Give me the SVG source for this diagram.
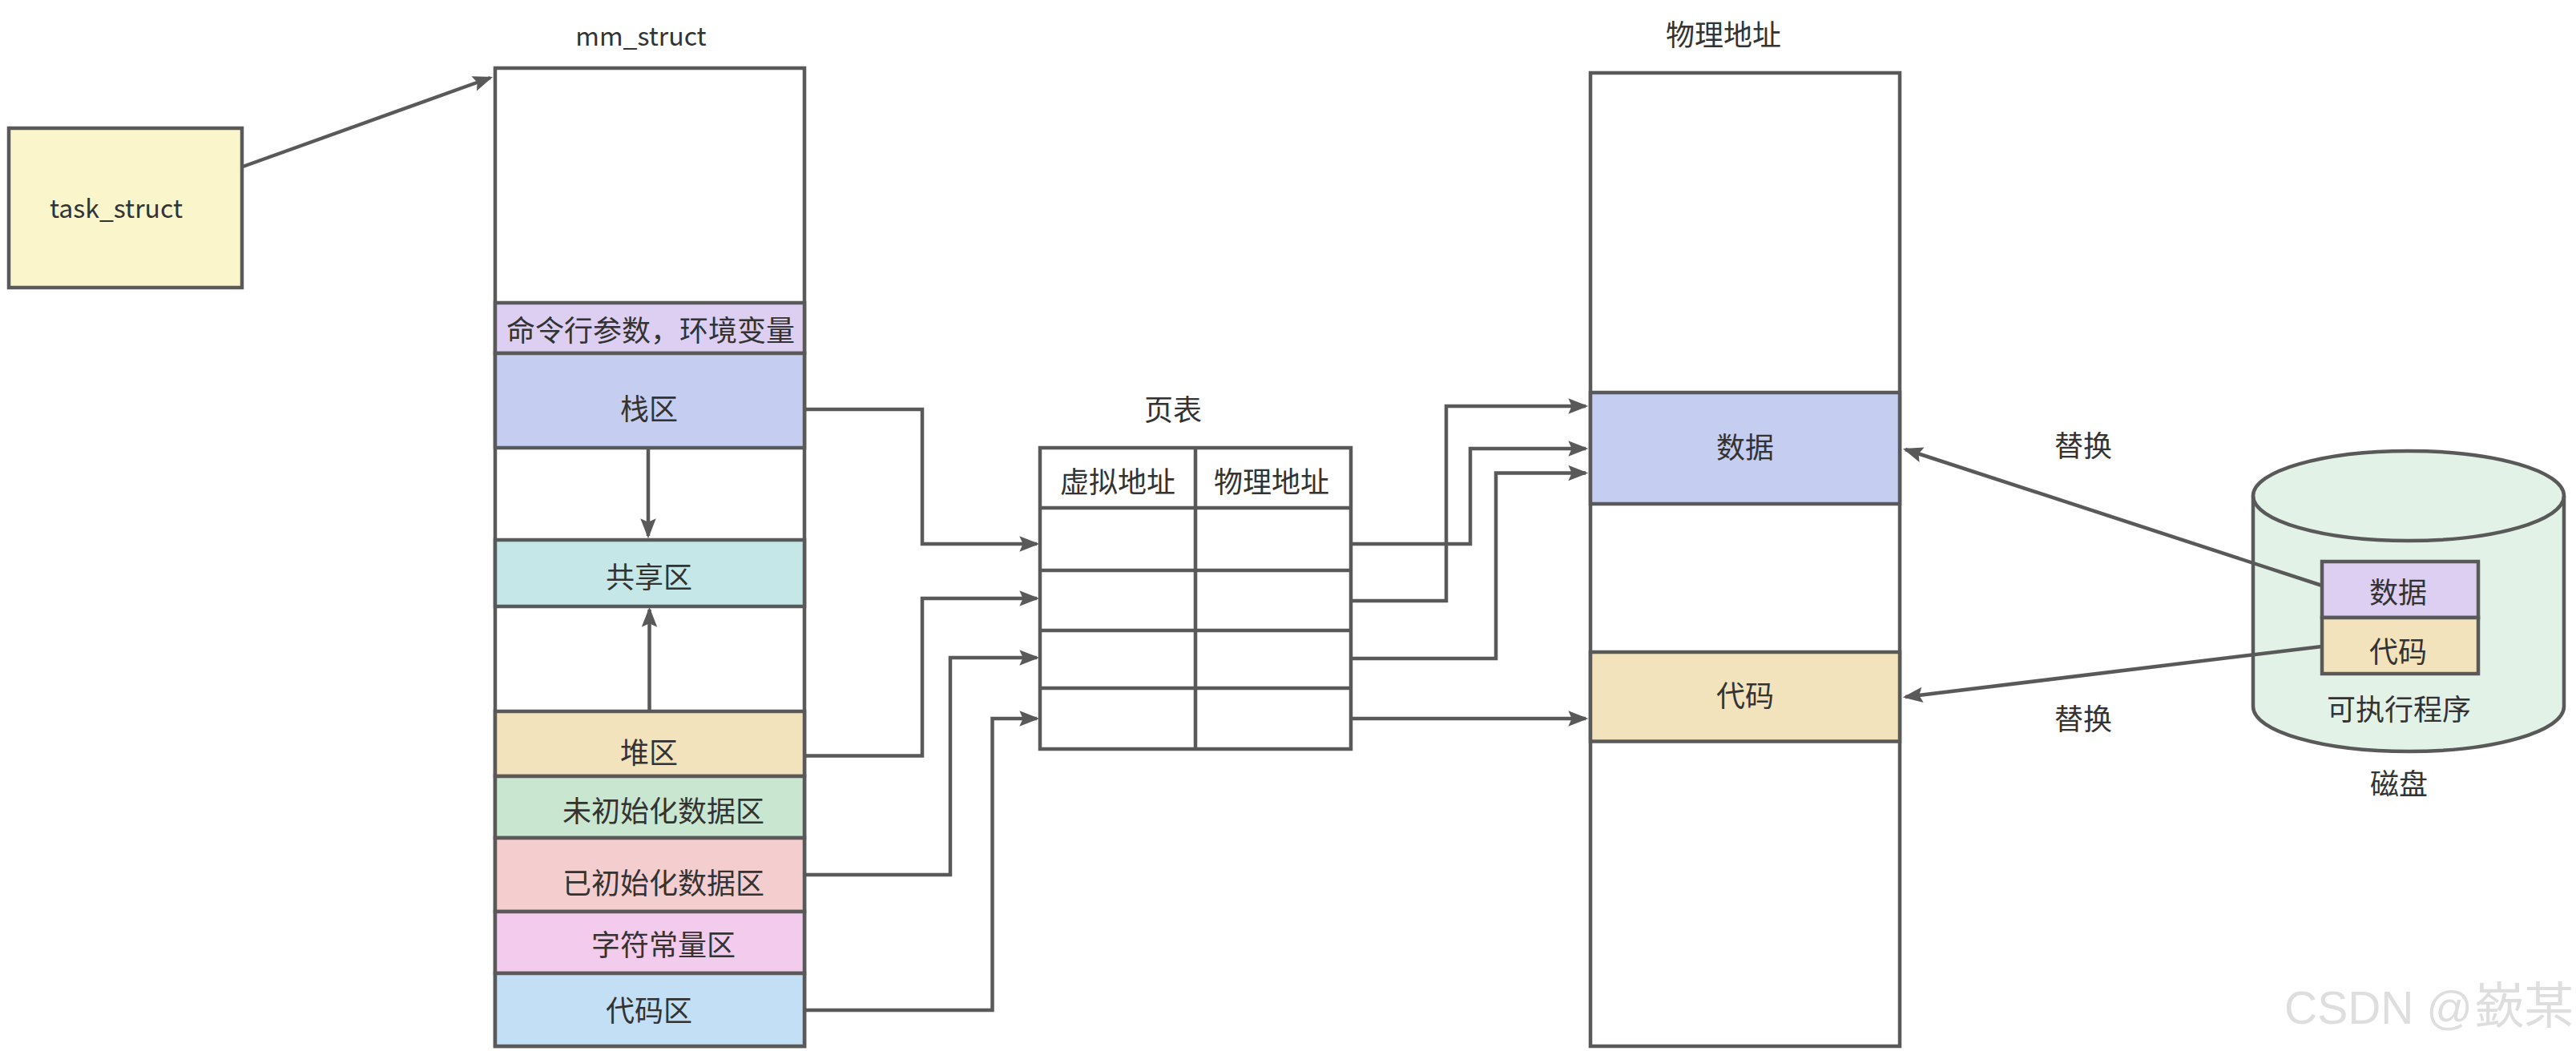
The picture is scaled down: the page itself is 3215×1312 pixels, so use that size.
<svg xmlns="http://www.w3.org/2000/svg" width="3215" height="1312" viewBox="0 0 3215 1312">
<defs>
<style>
text{font-family:"Noto Sans CJK SC","Noto Sans",sans-serif;font-size:36px;fill:#333;text-anchor:middle;dominant-baseline:central}
text.l{font-size:32px}
.b{stroke:#595959;stroke-width:4.5}
.c{fill:none;stroke:#595959;stroke-width:4.5;marker-end:url(#ah)}
text.wm{font-family:"Liberation Sans","Noto Sans CJK TC",sans-serif;font-size:57px;fill:#dedede;text-anchor:start;dominant-baseline:auto}
</style>
<marker id="ah" markerUnits="userSpaceOnUse" markerWidth="26" markerHeight="20" viewBox="0 0 24 18" refX="20" refY="9" orient="auto"><path d="M0 0L23 9L0 18L4 9z" fill="#595959"/></marker>
</defs>
<rect width="3215" height="1312" fill="#fff"/>
<g id="task_struct"><rect class="b" x="11" y="160" width="291" height="199" fill="#fbf5cc"/><text class="l" x="145" y="258">task_struct</text></g>
<g id="mm_struct">
<text class="l" x="800" y="43">mm_struct</text>
<rect class="b" x="618" y="85" width="386" height="1221" fill="#fff"/>
</g>
<g id="args"><rect class="b" x="618" y="378" width="386" height="63" fill="#dccff2"/><text x="812" y="410">命令行参数，环境变量</text></g>
<g id="stack"><rect class="b" x="618" y="441" width="386" height="118" fill="#c5cdf0"/><text x="810" y="508">栈区</text></g>
<g id="shared"><rect class="b" x="618" y="674" width="386" height="83" fill="#c5e7e7"/><text x="810" y="718">共享区</text></g>
<g id="heap"><rect class="b" x="618" y="888" width="386" height="81" fill="#f3e3bc"/><text x="810" y="937">堆区</text></g>
<g id="bss"><rect class="b" x="618" y="969" width="386" height="77" fill="#c8e6d0"/><text x="828" y="1010">未初始化数据区</text></g>
<g id="data"><rect class="b" x="618" y="1046" width="386" height="92" fill="#f4cdcf"/><text x="828" y="1100">已初始化数据区</text></g>
<g id="rodata"><rect class="b" x="618" y="1138" width="386" height="77" fill="#f3cbec"/><text x="828" y="1177">字符常量区</text></g>
<g id="code"><rect class="b" x="618" y="1215" width="386" height="91" fill="#c2dff5"/><text x="810" y="1259">代码区</text></g>
<g id="page_table">
<text x="1464" y="509">页表</text>
<rect class="b" x="1298" y="559" width="388" height="376" fill="#fff"/>
<path class="b" fill="none" d="M1298 634H1686M1298 712H1686M1298 787H1686M1298 859H1686M1492 559V937"/>
<text x="1395" y="599">虚拟地址</text><text x="1587" y="599">物理地址</text>
</g>
<g id="physical">
<text x="2151" y="41">物理地址</text>
<rect class="b" x="1985" y="91" width="386" height="1215" fill="#fff"/>
</g>
<g id="phys_data"><rect class="b" x="1985" y="490" width="386" height="139" fill="#c5cdf0"/><text x="2178" y="556">数据</text></g>
<g id="phys_code"><rect class="b" x="1985" y="814" width="386" height="111.500" fill="#f3e3bc"/><text x="2178" y="866">代码</text></g>
<g id="disk">
<path class="b" fill="#e3f2e7" d="M2812 619V882C2812 913 2899 938 3006 938S3200 913 3200 882V619C3200 588 3113 563 3006 563S2812 588 2812 619Z"/>
<path class="b" fill="none" d="M2812 619C2812 650 2899 675 3006 675S3200 650 3200 619"/>
<text x="2994" y="883">可执行程序</text>
<text x="2994" y="976">磁盘</text>
</g>
<g id="disk_data"><rect class="b" x="2898" y="701" width="195" height="70" fill="#dccff2"/><text x="2993" y="737">数据</text></g>
<g id="disk_code"><rect class="b" x="2898" y="771" width="195" height="70" fill="#f3e3bc"/><text x="2993" y="811">代码</text></g>
<g id="labels"><text x="2600" y="554">替换</text><text x="2600" y="895">替换</text></g>
<g id="connectors">
<path class="c" d="M303 208L612 97"/>
<path class="c" d="M809 559V669"/>
<path class="c" d="M810.500 888V761"/>
<path class="c" d="M1004 511H1151V679H1294"/>
<path class="c" d="M1004 943.500H1151V747H1294"/>
<path class="c" d="M1004 1092H1186V821H1294"/>
<path class="c" d="M1004 1261H1238.500V897H1294"/>
<path class="c" d="M1686 679H1835V560H1979"/>
<path class="c" d="M1686 750H1805V507H1979"/>
<path class="c" d="M1686 822H1867V590.500H1979"/>
<path class="c" d="M1686 897H1979"/>
<path class="c" d="M2898 731L2378 561"/>
<path class="c" d="M2898 807L2378 870"/>
</g>
<text class="wm" x="2851" y="1278">CSDN @<tspan font-size="62" dx="2">嶔某</tspan></text>
</svg>
